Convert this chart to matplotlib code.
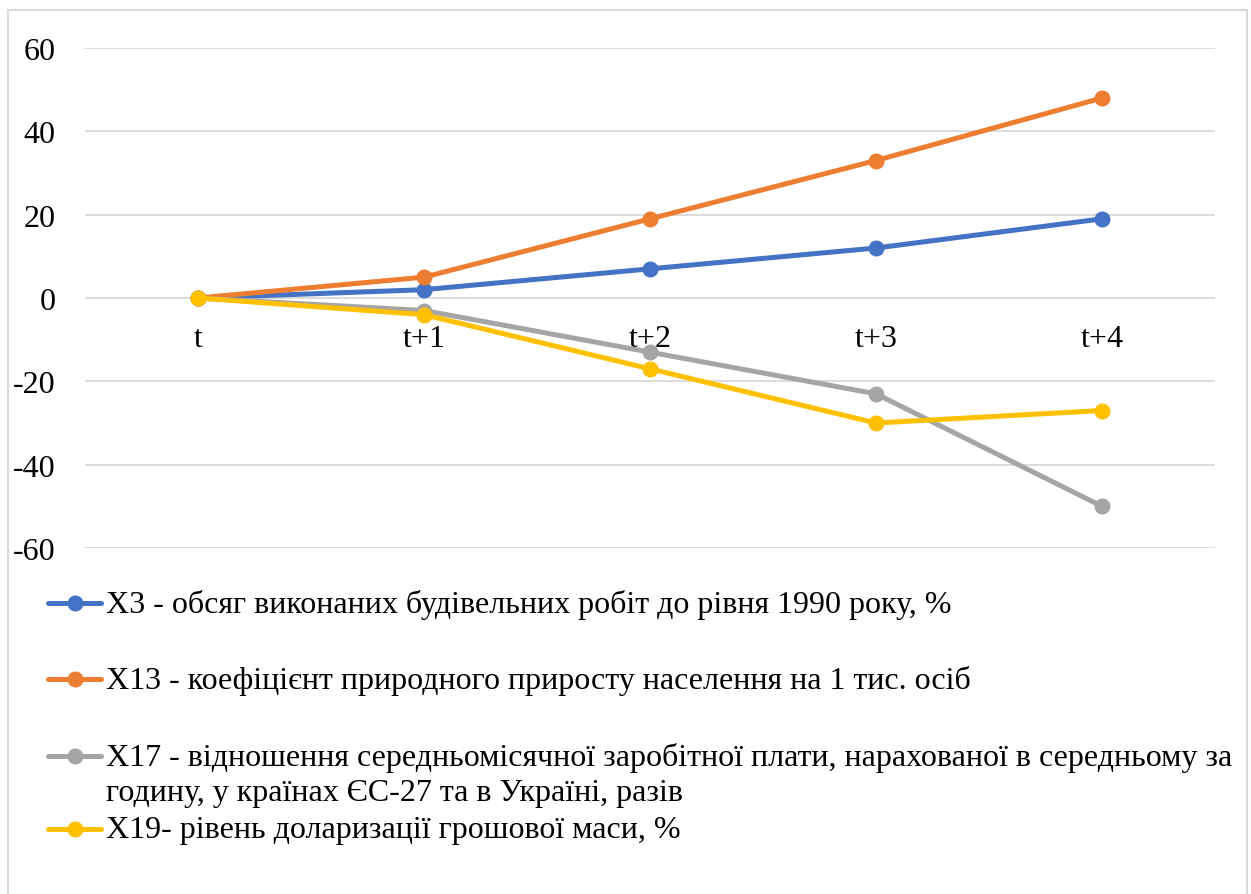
import matplotlib
matplotlib.use('Agg')
import matplotlib.pyplot as plt
from matplotlib.lines import Line2D
from matplotlib.patches import Rectangle

FONT = 'Liberation Serif'
FS = 23
plt.rcParams['axes.unicode_minus'] = False

# Дані: періоди та значення показників
periods = ['t', 't+1', 't+2', 't+3', 't+4']
x3 = [0, 2, 7, 12, 19]
x13 = [0, 5, 19, 33, 48]
x17 = [0, -3, -13, -23, -50]
x19 = [0, -4, -17, -30, -27]

labels = [
    'X3 - обсяг виконаних будівельних робіт до рівня 1990 року, %',
    'X13 - коефіцієнт природного приросту населення на 1 тис. осіб',
    'X17 - відношення середньомісячної заробітної плати, нарахованої в середньому за\n'
    'годину, у країнах ЄС-27 та в Україні, разів',
    'X19- рівень доларизації грошової маси, %',
]
colors = ['#4472C4', '#ED7D31', '#A5A5A5', '#FFC000']
series = [x3, x13, x17, x19]

W, H = 1251, 895
fig = plt.figure(figsize=(W / 100, H / 100), dpi=100)
ax = fig.add_axes([85 / W, 1 - 549 / H, 1130 / W, 500 / H])

xs = list(range(len(periods)))
for vals, c in zip(series, colors):
    ax.plot(xs, vals, color=c, lw=3.6, marker='o', ms=10.5, zorder=3,
            solid_capstyle='round')

ax.set_xlim(-0.5, len(periods) - 0.5)
ax.set_ylim(-60, 60)
ax.set_yticks(range(-60, 61, 20))
ax.yaxis.grid(True, color='#D9D9D9', lw=1.3)
ax.set_axisbelow(True)
for s in ax.spines.values():
    s.set_visible(False)

# Підписи категорій біля нульової лінії
ax.spines['bottom'].set_position(('data', 0))
ax.set_xticks(xs)
ax.set_xticklabels(periods)
ax.tick_params(axis='x', length=0, pad=19, labelsize=FS)
ax.tick_params(axis='y', length=0, pad=21, labelsize=FS)
for lab in ax.get_xticklabels() + ax.get_yticklabels():
    lab.set_family(FONT)

# Легенда під графіком
rows_y = [604, 680, 757, 830]
for y, c, lab in zip(rows_y, colors, labels):
    fy = 1 - y / H
    fig.add_artist(Line2D([48 / W, 101 / W], [fy, fy], transform=fig.transFigure,
                          color=c, lw=3.6, solid_capstyle='round'))
    fig.add_artist(Line2D([74.5 / W], [fy], transform=fig.transFigure,
                          color=c, marker='o', ms=10.5))
    fig.text(106 / W, fy + 14 / H, lab, fontsize=FS, va='top', ha='left',
             linespacing=1.27, family=FONT)

# Рамка області діаграми
fig.add_artist(Rectangle((8 / W, -0.01), 1239 / W, 1 - 11 / H + 0.01,
                         transform=fig.transFigure, fill=False,
                         edgecolor='#D9D9D9', lw=1.5))

plt.savefig('out.png', dpi=100)
plt.close()
